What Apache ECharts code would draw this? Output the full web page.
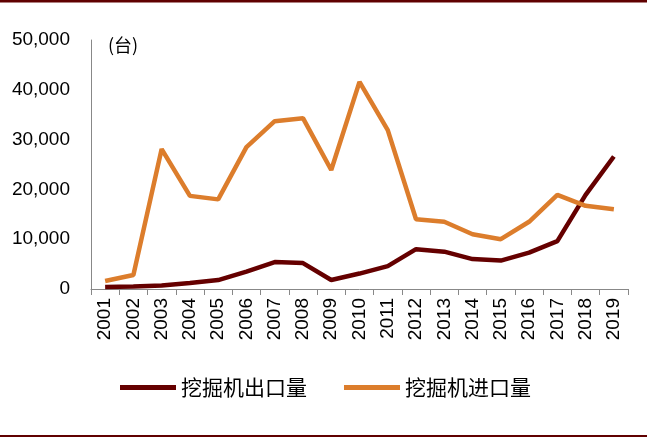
<!DOCTYPE html>
<html><head><meta charset="utf-8">
<script src="https://cdn.jsdelivr.net/npm/echarts@6/dist/echarts.min.js"></script>
<style>html,body{margin:0;padding:0;background:#fff}#c{width:647px;height:441px}</style>
</head><body><div id="c"></div>
<script>
const years = ['2001','2002','2003','2004','2005','2006','2007','2008','2009','2010','2011','2012','2013','2014','2015','2016','2017','2018','2019'];
const exportVals = [400,500,700,1200,1800,3500,5400,5200,1800,3100,4600,8000,7500,6000,5700,7300,9600,18900,26600];
const importVals = [1600,2800,28100,18700,18000,28500,33700,34300,23900,41600,31900,14000,13500,11000,10000,13500,18900,16700,16000];
const seriesNames = ['挖掘机出口量','挖掘机进口量'];
const unitLabel = '(台)';

const chart = echarts.init(document.getElementById('c'), null, {renderer:'canvas'});
chart.setOption({
  animation:false,
  backgroundColor:'#fff',
  grid:{left:91,right:19,top:40,bottom:152},
  legend:{
    left:120, top:377, padding:0, itemWidth:56, itemHeight:5, itemGap:37,
    icon:'rect',
    textStyle:{fontFamily:'Noto Sans CJK SC', fontSize:21, color:'#000', padding:[0,0,0,0]},
    data:seriesNames
  },
  graphic:[
    {type:'rect', shape:{x:0,y:0,width:647,height:2.5}, style:{fill:'#600000'}},
    {type:'rect', shape:{x:0,y:435,width:647,height:2}, style:{fill:'#600000'}},
    {type:'text', left:108, top:36, style:{text:unitLabel, font:'18px "Noto Sans CJK SC"', fill:'#000'}}
  ],
  xAxis:{
    type:'category', data:years, boundaryGap:true,
    axisLine:{lineStyle:{color:'#888',width:1}},
    axisTick:{show:true, length:6, lineStyle:{color:'#888'}, alignWithLabel:false},
    axisLabel:{rotate:90, fontSize:19, color:'#000', fontFamily:'Liberation Sans', margin:9, interval:0}
  },
  yAxis:{
    type:'value', min:0, max:50000, interval:10000,
    axisLine:{show:true, lineStyle:{color:'#888',width:1}},
    axisTick:{show:false},
    splitLine:{show:false},
    axisLabel:{fontSize:19, color:'#000', fontFamily:'Liberation Sans', margin:21,
      formatter:v=>v.toLocaleString('en-US')}
  },
  series:[
    {name:seriesNames[0], type:'line', data:exportVals, symbol:'none',
     lineStyle:{color:'#650000', width:4.5}, itemStyle:{color:'#650000'}},
    {name:seriesNames[1], type:'line', data:importVals, symbol:'none',
     lineStyle:{color:'#dc7d2c', width:4.5}, itemStyle:{color:'#dc7d2c'}}
  ]
});
</script></body></html>
